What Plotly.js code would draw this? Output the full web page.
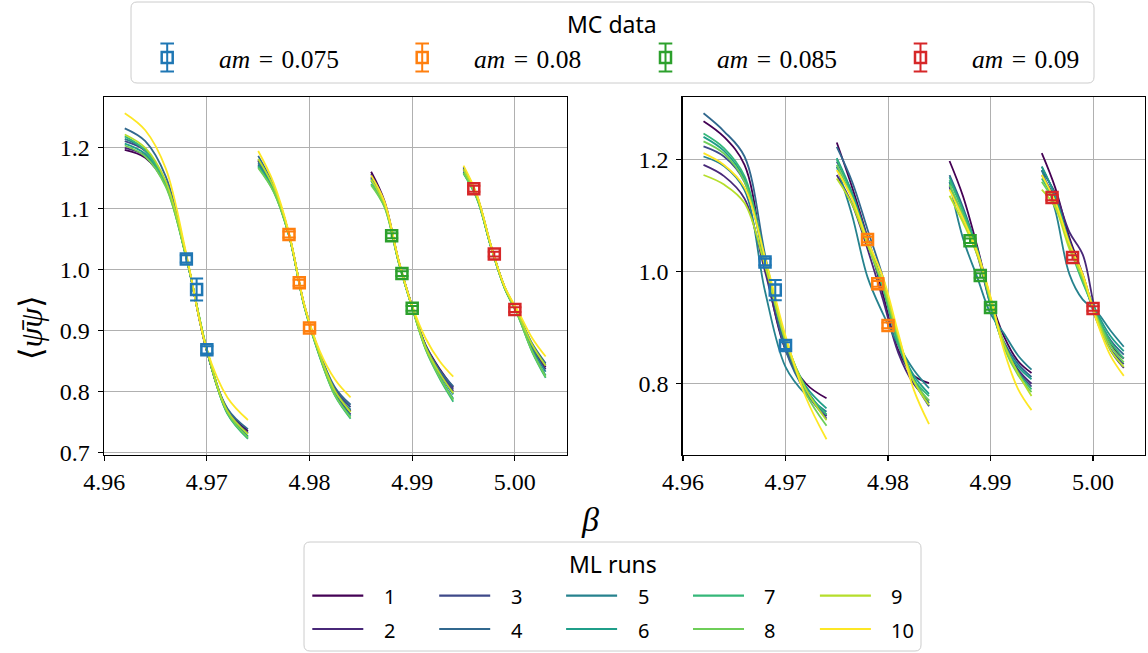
<!DOCTYPE html>
<html>
<head>
<meta charset="utf-8">
<script src="https://cdn.plot.ly/plotly-3.0.1.min.js"></script>
<style>
  html, body { margin: 0; padding: 0; background: #fff; }
  #chart { width: 1148px; height: 653px; }
</style>
</head>
<body>
<div id="chart"></div>
<script>
// β grid of the ML curves; null splits the four mass windows
const betaGrid = [
  4.962, 4.964, 4.966, 4.968, 4.970, 4.972, 4.974, null,
  4.975, 4.9765, 4.978, 4.9795, 4.981, 4.9825, 4.984, null,
  4.986, 4.9873, 4.9887, 4.990, 4.9913, 4.9927, 4.994, null,
  4.995, 4.9963, 4.9977, 4.999, 5.0003, 5.0017, 5.003
];

// ⟨ψ̄ψ⟩ from the ML runs, left panel (runs 1..10)
const mlLeft = [
  [1.196,1.183,1.138,1.020,0.866,0.770,0.735,null, 1.178,1.133,1.057,0.940,0.860,0.800,0.768,null, 1.160,1.112,1.013,0.939,0.876,0.836,0.806,null, 1.165,1.120,1.036,0.971,0.927,0.874,0.840],
  [1.199,1.186,1.140,1.019,0.866,0.768,0.732,null, 1.172,1.130,1.056,0.940,0.859,0.797,0.762,null, 1.156,1.110,1.012,0.939,0.874,0.831,0.800,null, 1.163,1.119,1.036,0.970,0.926,0.872,0.836],
  [1.210,1.194,1.143,1.020,0.867,0.769,0.731,null, 1.180,1.134,1.057,0.940,0.861,0.803,0.774,null, 1.152,1.109,1.012,0.938,0.875,0.833,0.803,null, 1.166,1.121,1.037,0.971,0.927,0.876,0.843],
  [1.231,1.210,1.152,1.022,0.866,0.772,0.738,null, 1.186,1.137,1.058,0.941,0.862,0.806,0.778,null, 1.150,1.108,1.011,0.938,0.875,0.834,0.808,null, 1.168,1.121,1.037,0.971,0.928,0.878,0.846],
  [1.214,1.196,1.142,1.019,0.868,0.766,0.726,null, 1.175,1.132,1.057,0.939,0.858,0.798,0.770,null, 1.148,1.107,1.011,0.938,0.873,0.828,0.795,null, 1.160,1.118,1.036,0.970,0.926,0.870,0.832],
  [1.206,1.189,1.139,1.020,0.867,0.764,0.724,null, 1.170,1.130,1.056,0.939,0.857,0.794,0.760,null, 1.145,1.105,1.011,0.937,0.871,0.823,0.788,null, 1.158,1.117,1.035,0.970,0.925,0.866,0.826],
  [1.218,1.195,1.138,1.018,0.869,0.763,0.722,null, 1.168,1.128,1.055,0.938,0.856,0.792,0.755,null, 1.140,1.103,1.010,0.937,0.869,0.820,0.783,null, 1.157,1.116,1.035,0.969,0.924,0.864,0.822],
  [1.203,1.185,1.135,1.019,0.869,0.765,0.724,null, 1.166,1.127,1.055,0.939,0.857,0.793,0.757,null, 1.138,1.102,1.010,0.937,0.870,0.822,0.786,null, 1.158,1.117,1.035,0.969,0.924,0.865,0.824],
  [1.221,1.199,1.144,1.021,0.868,0.768,0.730,null, 1.181,1.135,1.058,0.940,0.860,0.800,0.766,null, 1.147,1.107,1.012,0.938,0.873,0.829,0.797,null, 1.164,1.120,1.037,0.971,0.928,0.876,0.842],
  [1.256,1.228,1.165,1.025,0.868,0.790,0.753,null, 1.194,1.142,1.060,0.942,0.866,0.819,0.790,null, 1.154,1.111,1.014,0.940,0.887,0.849,0.824,null, 1.170,1.123,1.038,0.972,0.932,0.887,0.857]
];

// ⟨ψ̄ψ⟩ from the ML runs, right panel (runs 1..10)
const mlRight = [
  [1.268,1.240,1.190,1.010,0.860,0.800,0.774,null, 1.230,1.150,1.060,0.960,0.860,0.815,0.801,null, 1.197,1.135,1.045,0.952,0.885,0.840,0.819,null, 1.211,1.150,1.060,0.995,0.920,0.870,0.845],
  [1.190,1.170,1.130,1.000,0.862,0.790,0.742,null, 1.172,1.120,1.040,0.950,0.855,0.800,0.770,null, 1.150,1.095,1.030,0.940,0.870,0.825,0.800,null, 1.180,1.140,1.070,1.030,0.925,0.860,0.828],
  [1.223,1.205,1.160,1.015,0.870,0.785,0.738,null, 1.196,1.140,1.060,0.975,0.870,0.805,0.760,null, 1.152,1.100,1.035,0.950,0.870,0.822,0.795,null, 1.172,1.130,1.055,0.990,0.915,0.862,0.835],
  [1.282,1.250,1.205,1.030,0.860,0.785,0.745,null, 1.222,1.160,1.075,0.990,0.880,0.810,0.765,null, 1.172,1.115,1.040,0.945,0.875,0.835,0.812,null, 1.187,1.135,1.050,0.985,0.925,0.878,0.852],
  [1.205,1.188,1.145,0.965,0.830,0.780,0.750,null, 1.187,1.100,0.990,0.925,0.870,0.825,0.792,null, 1.160,1.060,0.990,0.925,0.890,0.850,0.825,null, 1.181,1.110,0.995,0.950,0.930,0.895,0.866],
  [1.240,1.215,1.165,1.020,0.875,0.795,0.756,null, 1.202,1.140,1.055,0.975,0.875,0.815,0.782,null, 1.168,1.110,1.040,0.940,0.870,0.830,0.808,null, 1.187,1.135,1.050,0.985,0.930,0.885,0.858],
  [1.246,1.220,1.170,1.025,0.880,0.790,0.745,null, 1.200,1.135,1.050,0.970,0.870,0.808,0.778,null, 1.163,1.108,1.038,0.945,0.868,0.820,0.790,null, 1.166,1.125,1.045,0.980,0.925,0.875,0.845],
  [1.232,1.210,1.160,1.018,0.875,0.782,0.725,null, 1.190,1.130,1.050,0.975,0.880,0.805,0.770,null, 1.155,1.100,1.032,0.948,0.865,0.815,0.785,null, 1.160,1.120,1.045,0.985,0.922,0.868,0.838],
  [1.172,1.155,1.122,1.010,0.878,0.790,0.735,null, 1.166,1.120,1.048,0.980,0.885,0.805,0.762,null, 1.135,1.088,1.030,0.950,0.872,0.818,0.778,null, 1.146,1.115,1.040,0.990,0.920,0.860,0.830],
  [1.211,1.190,1.150,1.025,0.885,0.775,0.701,null, 1.181,1.130,1.055,0.990,0.890,0.790,0.728,null, 1.146,1.095,1.035,0.955,0.860,0.790,0.753,null, 1.172,1.125,1.050,0.995,0.915,0.850,0.814]
];

const runLabels = ['1','2','3','4','5','6','7','8','9','10'];
const runColors = ['#440154','#482878','#3e4989','#31688e','#26828e','#1f9e89','#35b779','#6ece58','#b5de2b','#fde725'];

// Monte Carlo reference points, one group per bare mass
const mcMass   = ['0.075', '0.08', '0.085', '0.09'];
const mcColors = ['#1f77b4', '#ff7f0e', '#2ca02c', '#d62728'];
const mcBeta   = [[4.968, 4.969, 4.970], [4.978, 4.979, 4.980], [4.988, 4.989, 4.990], [4.996, 4.998, 5.000]];
const mcValue  = [[1.017, 0.967, 0.868], [1.057, 0.978, 0.904], [1.055, 0.993, 0.936], [1.132, 1.025, 0.934]];
const mcError  = [[0.006, 0.018, 0.006], [0.005, 0.005, 0.005], [0.004, 0.004, 0.004], [0.005, 0.004, 0.004]];

// ticks
const betaTicks     = [4.96, 4.97, 4.98, 4.99, 5.00];
const betaTickText  = ['4.96', '4.97', '4.98', '4.99', '5.00'];
const leftYTicks    = [0.7, 0.8, 0.9, 1.0, 1.1, 1.2];
const leftYTickText = ['0.7', '0.8', '0.9', '1.0', '1.1', '1.2'];
const rightYTicks    = [0.8, 1.0, 1.2];
const rightYTickText = ['0.8', '1.0', '1.2'];

// ---------- page geometry (pixels) ----------
const W = 1148, H = 653;
const px = v => v / W;
const py = v => 1 - v / H;

const SERIF = "'Liberation Serif', 'DejaVu Serif', serif";
const SANS  = "'Noto Sans', 'DejaVu Sans', sans-serif";

// ---------- traces ----------
const traces = [];
const panels = [[mlLeft, 'x', 'y'], [mlRight, 'x2', 'y2']];
panels.forEach(([runs, xa, ya]) => {
  runs.forEach((vals, i) => {
    traces.push({
      type: 'scatter', mode: 'lines', x: betaGrid, y: vals,
      xaxis: xa, yaxis: ya, connectgaps: false,
      line: { color: runColors[i], width: 1.8, shape: 'spline', smoothing: 1 },
      showlegend: false, hoverinfo: 'skip'
    });
  });
});
panels.forEach(([, xa, ya]) => {
  mcBeta.forEach((b, k) => {
    traces.push({
      type: 'scatter', mode: 'markers', x: b, y: mcValue[k],
      xaxis: xa, yaxis: ya,
      marker: { symbol: 'square-open', size: 11, color: mcColors[k], line: { width: 2.5, color: mcColors[k] } },
      error_y: { type: 'data', array: mcError[k], visible: true, color: mcColors[k], thickness: 2, width: 6.5 },
      showlegend: false
    });
  });
});

// ---------- axes ----------
const axisBase = {
  showline: true, linecolor: '#000', linewidth: 1.1, mirror: true,
  ticks: 'outside', ticklen: 5, tickwidth: 1.1, tickcolor: '#000',
  showgrid: true, gridcolor: '#b0b0b0', gridwidth: 1, zeroline: false,
  tickfont: { family: SERIF, size: 24, color: '#000' }, fixedrange: true
};
const yDomain = [py(455), py(96.7)];

// ---------- legend boxes drawn as shapes/annotations ----------
function roundedBox(x0, y0, x1, y1, r) {
  const P = (x, y) => px(x) + ',' + py(y);
  return 'M' + P(x0 + r, y0) + ' L' + P(x1 - r, y0) + ' Q' + P(x1, y0) + ' ' + P(x1, y0 + r) +
         ' L' + P(x1, y1 - r) + ' Q' + P(x1, y1) + ' ' + P(x1 - r, y1) +
         ' L' + P(x0 + r, y1) + ' Q' + P(x0, y1) + ' ' + P(x0, y1 - r) +
         ' L' + P(x0, y0 + r) + ' Q' + P(x0, y0) + ' ' + P(x0 + r, y0) + ' Z';
}
const shapes = [];
const annotations = [];
const boxStyle = { type: 'path', xref: 'paper', yref: 'paper', line: { color: '#cccccc', width: 1 }, fillcolor: 'rgba(255,255,255,0.8)', layer: 'above' };
const seg = (x0, y0, x1, y1, color, w) => ({ type: 'line', xref: 'paper', yref: 'paper', x0: px(x0), y0: py(y0), x1: px(x1), y1: py(y1), line: { color: color, width: w }, layer: 'above' });

// MC data legend
shapes.push(Object.assign({ path: roundedBox(131, 2, 1094, 83, 6) }, boxStyle));
annotations.push({ xref: 'paper', yref: 'paper', x: px(612), y: py(24), xanchor: 'center', yanchor: 'middle', showarrow: false,
  text: 'MC data', font: { family: SANS, size: 23, color: '#000' } });
const mcTextX = [216.7, 471.7, 715, 970];
mcMass.forEach((m, k) => {
  const cx = mcTextX[k] - 49.5, cy = 57.5, c = mcColors[k];
  shapes.push({ type: 'rect', xref: 'paper', yref: 'paper', x0: px(cx - 5.5), x1: px(cx + 5.5), y0: py(cy - 5.5), y1: py(cy + 5.5),
    line: { color: c, width: 2.5 }, fillcolor: 'rgba(0,0,0,0)', layer: 'above' });
  shapes.push(seg(cx, cy - 14, cx, cy + 14, c, 2));
  shapes.push(seg(cx - 6.8, cy - 14, cx + 6.8, cy - 14, c, 2));
  shapes.push(seg(cx - 6.8, cy + 14, cx + 6.8, cy + 14, c, 2));
  annotations.push({ xref: 'paper', yref: 'paper', x: px(mcTextX[k]), y: py(59), xanchor: 'left', yanchor: 'middle', showarrow: false,
    text: '<i>am</i>\u2004=\u2004' + m, font: { family: SERIF, size: 25.5, color: '#000' } });
});

// ML runs legend (two rows, filled column by column)
shapes.push(Object.assign({ path: roundedBox(304, 542, 921, 651, 6) }, boxStyle));
annotations.push({ xref: 'paper', yref: 'paper', x: px(612.7), y: py(564), xanchor: 'center', yanchor: 'middle', showarrow: false,
  text: 'ML runs', font: { family: SANS, size: 23, color: '#000' } });
runLabels.forEach((lab, i) => {
  const col = Math.floor(i / 2), row = i % 2;
  const x0 = 312.3 + col * 126.9, y = 595.7 + row * 33.3;
  shapes.push(seg(x0, y, x0 + 51, y, runColors[i], 2.2));
  annotations.push({ xref: 'paper', yref: 'paper', x: px(x0 + 69.4), y: py(y + 1), xanchor: 'left', yanchor: 'middle', showarrow: false,
    text: lab, font: { family: SANS, size: 20, color: '#000' } });
});

// shared axis labels
annotations.push({ xref: 'paper', yref: 'paper', x: px(590), y: py(519), xanchor: 'center', yanchor: 'middle', showarrow: false,
  text: '<i>β</i>', font: { family: SERIF, size: 34, color: '#000' } });
annotations.push({ xref: 'paper', yref: 'paper', x: px(31), y: py(328), xanchor: 'center', yanchor: 'middle', showarrow: false, textangle: -90,
  text: '⟨<i>ψ\u0304ψ</i>⟩', font: { family: SERIF, size: 32, color: '#000' } });

const layout = {
  width: W, height: H, autosize: false,
  margin: { l: 0, r: 0, t: 0, b: 0 },
  paper_bgcolor: '#fff', plot_bgcolor: '#fff', showlegend: false,
  xaxis:  Object.assign({}, axisBase, { domain: [px(103.7), px(566.7)], range: [4.95995, 5.00505], tickvals: betaTicks, ticktext: betaTickText, anchor: 'y' }),
  yaxis:  Object.assign({}, axisBase, { domain: yDomain, range: [0.6956, 1.283], tickvals: leftYTicks, ticktext: leftYTickText, anchor: 'x', ticklabelstandoff: 3 }),
  xaxis2: Object.assign({}, axisBase, { domain: [px(682.5), px(1144.8)], range: [4.95995, 5.00505], tickvals: betaTicks, ticktext: betaTickText, anchor: 'y2' }),
  yaxis2: Object.assign({}, axisBase, { domain: yDomain, range: [0.673, 1.3116], tickvals: rightYTicks, ticktext: rightYTickText, anchor: 'x2', ticklabelstandoff: 3 }),
  shapes: shapes,
  annotations: annotations
};

Plotly.newPlot('chart', traces, layout, { displayModeBar: false, staticPlot: true });
</script>
</body>
</html>
